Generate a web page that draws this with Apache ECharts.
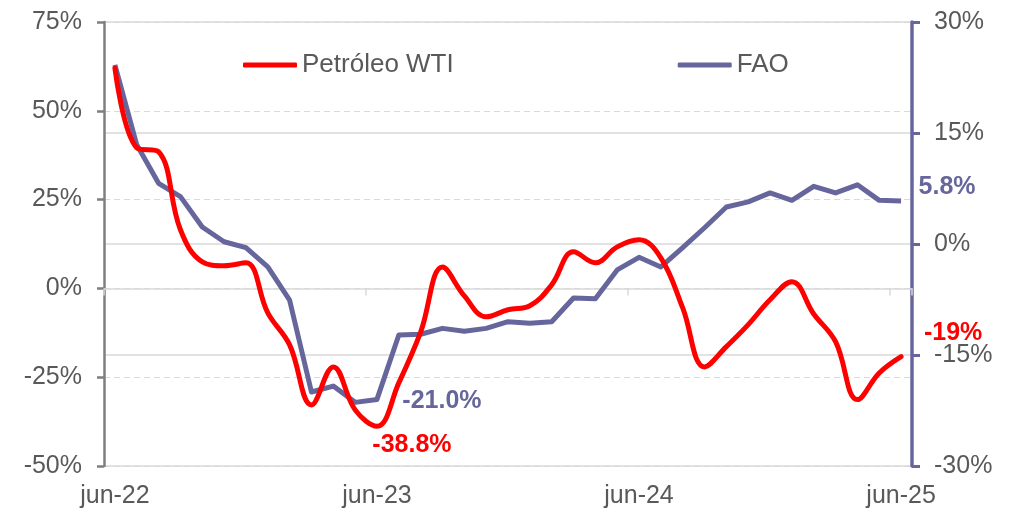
<!DOCTYPE html>
<html>
<head>
<meta charset="utf-8">
<script src="https://cdn.jsdelivr.net/npm/echarts@6/dist/echarts.min.js"></script>
<style>
  html, body { margin: 0; padding: 0; background: #fff; }
  #chart { width: 1020px; height: 514px; }
</style>
</head>
<body>
<div id="chart"></div>
<script>
// meses jun-22 .. jun-25
const months = [
  'jun-22','jul-22','ago-22','sep-22','oct-22','nov-22','dic-22','ene-23','feb-23','mar-23','abr-23','may-23',
  'jun-23','jul-23','ago-23','sep-23','oct-23','nov-23','dic-23','ene-24','feb-24','mar-24','abr-24','may-24',
  'jun-24','jul-24','ago-24','sep-24','oct-24','nov-24','dic-24','ene-25','feb-25','mar-25','abr-25','may-25',
  'jun-25'
]

// variación interanual (%), eje izquierdo
const wti = [
  62, 39.6, 38.5, 16.5, 7.5, 6.4, 7.2, -6.9, -15.9, -32.8, -22.1, -34.2,
  -38.8, -26.6, -12.3, 6, -2.1, -8.0, -6.0, -4.9, 1.0, 10.3, 7.2, 11.7,
  13.7, 8.6, -5.5, -22.1, -16.4, -10.2, -3.2, 1.9, -7.2, -15.0, -31.3, -23.8,
  -19.2
]

// índice FAO (%), eje derecho
const fao = [
  24.2, 13.4, 8.2, 6.4, 2.3, 0.3, -0.5, -3.1, -7.6, -20.0, -19.2, -21.4,
  -21.0, -12.3, -12.2, -11.4, -11.8, -11.4, -10.5, -10.7, -10.5, -7.3, -7.4, -3.5,
  -1.8, -3.1, -0.5, 2.2, 5.0, 5.7, 6.9, 5.9, 7.8, 6.9, 8.0, 5.9,
  5.8
]

// etiquetas destacadas: índice -> [texto, desplazamiento]
const wtiNotes = { 12: ['-38.8%', [35, 19]], 36: ['-19%', [52, -23]] }
const faoNotes = { 12: ['-21.0%', [65, 2]], 36: ['5.8%', [46, -14]] }

const RED = '#FF0000'
const PURPLE = '#66669C'
const GREY = '#595959'
const GRID = '#D9D9D9'
const FONT = "'Liberation Sans', Arial, sans-serif"

function withNotes(values, notes, color) {
  return values.map((v, i) => {
    if (!notes[i]) return v
    return {
      value: v,
      label: {
        show: true,
        position: 'inside',
        offset: notes[i][1],
        formatter: notes[i][0],
        color: color,
        fontWeight: 'bold',
        fontSize: 25,
        fontFamily: FONT
      }
    }
  })
}

const chart = echarts.init(document.getElementById('chart'))

const option = {
  animation: false,
  textStyle: { fontFamily: FONT },
  grid: { left: 104, right: 108, top: 22, bottom: 48, containLabel: false },
  legend: {
    data: [
      { name: 'Petróleo WTI', icon: 'roundRect', itemStyle: { color: RED } },
      { name: 'FAO', icon: 'roundRect', itemStyle: { color: PURPLE } }
    ],
    left: 238,
    top: 47,
    itemWidth: 54,
    itemHeight: 5,
    itemGap: 224,
    textStyle: { color: GREY, fontSize: 26, fontFamily: FONT }
  },
  xAxis: [
    {
      type: 'category',
      data: months,
      boundaryGap: true,
      position: 'bottom',
      axisLine: { show: false, onZero: false },
      axisTick: { show: false },
      axisLabel: { interval: 11, color: GREY, fontSize: 25, margin: 18, fontFamily: FONT },
      splitLine: { show: false }
    },
    {
      type: 'category',
      data: months,
      boundaryGap: true,
      position: 'bottom',
      axisLine: { show: true, onZero: true, onZeroAxisIndex: 0, lineStyle: { color: GRID, width: 1.5 } },
      axisTick: { show: true, interval: 11, length: 7, lineStyle: { color: GRID, width: 1.5 } },
      axisLabel: { show: false },
      splitLine: { show: false }
    }
  ],
  yAxis: [
    {
      type: 'value',
      min: -50,
      max: 75,
      interval: 25,
      axisLine: { show: true, lineStyle: { color: '#7F7F7F', width: 2.5 } },
      axisTick: { show: true, length: 7, lineStyle: { color: '#7F7F7F', width: 2.5 } },
      axisLabel: { formatter: '{value}%', color: GREY, fontSize: 25, margin: 22, fontFamily: FONT },
      splitLine: { show: true, lineStyle: { color: GRID, width: 1, type: [6, 4] } }
    },
    {
      type: 'value',
      min: -30,
      max: 30,
      interval: 15,
      position: 'right',
      axisLine: { show: true, lineStyle: { color: PURPLE, width: 3.5 } },
      axisTick: { show: true, length: 8, lineStyle: { color: PURPLE, width: 3 } },
      axisLabel: { formatter: '{value}%', color: GREY, fontSize: 25, margin: 22, fontFamily: FONT },
      splitLine: { show: true, lineStyle: { color: GRID, width: 1.5 } }
    }
  ],
  series: [
    {
      name: 'FAO',
      type: 'line',
      xAxisIndex: 0,
      yAxisIndex: 1,
      data: withNotes(fao, faoNotes, PURPLE),
      symbol: 'circle',
      symbolSize: 0,
      showSymbol: true,
      smooth: false,
      color: PURPLE,
      lineStyle: { color: PURPLE, width: 5, join: 'round' },
      emphasis: { disabled: true }
    },
    {
      name: 'Petróleo WTI',
      type: 'line',
      xAxisIndex: 0,
      yAxisIndex: 0,
      data: withNotes(wti, wtiNotes, RED),
      symbol: 'circle',
      symbolSize: 0,
      showSymbol: true,
      smooth: 0.4,
      color: RED,
      lineStyle: { color: RED, width: 5, cap: 'round' },
      emphasis: { disabled: true }
    }
  ]
}

chart.setOption(option)
</script>
</body>
</html>
